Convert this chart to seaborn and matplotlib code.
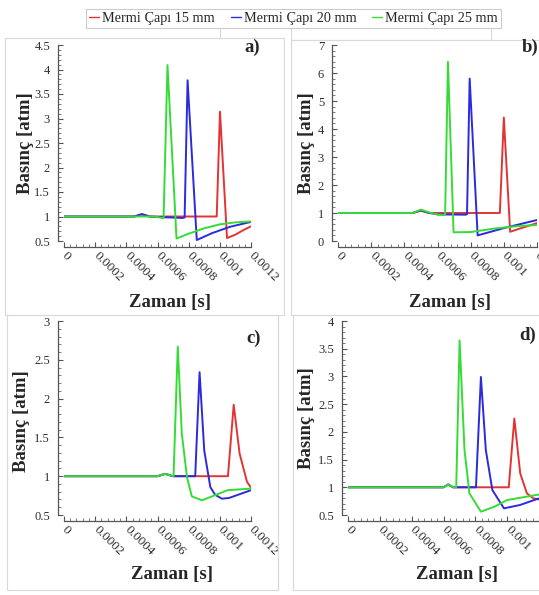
import matplotlib
matplotlib.use("Agg")
import matplotlib.pyplot as plt
from matplotlib.ticker import FixedLocator, FixedFormatter, MultipleLocator
from matplotlib.patches import Rectangle
from matplotlib.lines import Line2D
import pandas as pd
import seaborn as sns

W, H = 539, 595

series_names = ["Mermi Çapı 15 mm", "Mermi Çapı 20 mm", "Mermi Çapı 25 mm"]
series_colors = ["#e23434", "#2a2ade", "#36dc36"]

x_ticks = [0, 0.0002, 0.0004, 0.0006, 0.0008, 0.001, 0.0012]
x_tick_labels = ["0", "0.0002", "0.0004", "0.0006", "0.0008", "0.001", "0.0012"]

# ---- panel a ----
a_t_15 = [0, 0.00045, 0.0005, 0.00055, 0.00098, 0.001001, 0.001046, 0.0011, 0.00115, 0.0012]
a_p_15 = [1.0, 1.0, 1.04, 1.0, 1.0, 3.14, 0.56, 0.63, 0.72, 0.80]
a_t_20 = [0, 0.00045, 0.0005, 0.00055, 0.0006, 0.00076, 0.000774, 0.000793, 0.000852, 0.00095, 0.001065, 0.0012]
a_p_20 = [1.0, 1.0, 1.05, 1.0, 0.99, 0.97, 0.98, 3.78, 0.52, 0.66, 0.79, 0.89]
a_t_25 = [0, 0.00058, 0.00063, 0.000639, 0.000664, 0.000722, 0.0008, 0.0009, 0.001, 0.0011, 0.0012]
a_p_25 = [1.0, 1.0, 0.97, 0.97, 4.09, 0.55, 0.65, 0.76, 0.84, 0.88, 0.90]
a_y_ticks = [0.5, 1, 1.5, 2, 2.5, 3, 3.5, 4, 4.5]
a_y_labels = ["0.5", "1", "1.5", "2", "2.5", "3", "3.5", "4", "4.5"]

# ---- panel b ----
b_t_15 = [0, 0.00045, 0.0005, 0.00055, 0.000976, 0.001, 0.001038, 0.0011, 0.0012]
b_p_15 = [1.0, 1.0, 1.08, 1.0, 1.0, 4.41, 0.33, 0.45, 0.64]
b_t_20 = [0, 0.00045, 0.0005, 0.00055, 0.0006, 0.00077, 0.000778, 0.000794, 0.000842, 0.001, 0.0012]
b_p_20 = [1.0, 1.0, 1.1, 1.0, 0.95, 0.94, 0.96, 5.8, 0.2, 0.46, 0.75]
b_t_25 = [0, 0.00045, 0.0005, 0.00055, 0.0006, 0.00064, 0.000646, 0.000663, 0.000697, 0.00080, 0.00095, 0.0011, 0.0012]
b_p_25 = [1.0, 1.0, 1.12, 1.02, 0.95, 0.92, 0.95, 6.4, 0.31, 0.32, 0.45, 0.54, 0.57]
b_y_ticks = [0, 1, 2, 3, 4, 5, 6, 7]
b_y_labels = ["0", "1", "2", "3", "4", "5", "6", "7"]

# ---- panel c ----
c_t_15 = [0, 0.0006, 0.00065, 0.0007, 0.001052, 0.001089, 0.001127, 0.001174, 0.0012]
c_p_15 = [1.0, 1.0, 1.03, 1.0, 1.0, 1.92, 1.29, 0.93, 0.85]
c_t_20 = [0, 0.0006, 0.00065, 0.0007, 0.000842, 0.00087, 0.0009, 0.000939, 0.00097, 0.001014, 0.00106, 0.0012]
c_p_20 = [1.0, 1.0, 1.03, 1.0, 1.0, 2.34, 1.33, 0.86, 0.76, 0.71, 0.72, 0.82]
c_t_25 = [0, 0.0006, 0.00065, 0.0007, 0.000703, 0.00073, 0.000756, 0.000789, 0.00082, 0.000885, 0.00095, 0.00105, 0.0012]
c_p_25 = [1.0, 1.0, 1.03, 1.0, 1.0, 2.67, 1.55, 0.99, 0.74, 0.69, 0.74, 0.82, 0.84]
c_y_ticks = [0.5, 1, 1.5, 2, 2.5, 3]
c_y_labels = ["0.5", "1", "1.5", "2", "2.5", "3"]

# ---- panel d ----
d_t_15 = [0, 0.0006, 0.00063, 0.00066, 0.00101, 0.001045, 0.001082, 0.001124, 0.001165, 0.0012]
d_p_15 = [1.0, 1.0, 1.05, 1.0, 1.0, 2.24, 1.25, 0.89, 0.80, 0.78]
d_t_20 = [0, 0.0006, 0.00063, 0.00066, 0.000804, 0.000835, 0.000866, 0.000907, 0.00098, 0.00108, 0.0012]
d_p_20 = [1.0, 1.0, 1.05, 1.0, 1.0, 2.99, 1.67, 0.95, 0.62, 0.68, 0.80]
d_t_25 = [0, 0.0006, 0.00063, 0.00066, 0.00068, 0.000701, 0.000732, 0.000763, 0.000835, 0.00092, 0.001, 0.0012]
d_p_25 = [1.0, 1.0, 1.05, 1.0, 1.0, 3.65, 1.67, 0.89, 0.56, 0.65, 0.77, 0.87]
d_y_ticks = [0.5, 1, 1.5, 2, 2.5, 3, 3.5, 4]
d_y_labels = ["0.5", "1", "1.5", "2", "2.5", "3", "3.5", "4"]

panel_letters = ["a)", "b)", "c)", "d)"]

sns.set_style("ticks")
plt.rcParams["font.family"] = ["Liberation Serif", "DejaVu Serif"]


def px_box(l, t, r, b):
    return [l / W, 1 - b / H, (r - l) / W, (b - t) / H]


def frame(fig, l, t, r, b):
    fig.patches.append(Rectangle((l / W, 1 - b / H), (r - l) / W, (b - t) / H,
                                 transform=fig.transFigure, fill=False,
                                 edgecolor="#d9d9d9", lw=0.8, zorder=0))


fig = plt.figure(figsize=(W / 100, H / 100), dpi=100)
fig.patch.set_facecolor("white")

# light panel frames
frame(fig, 5, 38, 284, 315)
frame(fig, 291, 40, 545, 315)
frame(fig, 7, 315, 278, 590)
frame(fig, 293, 315, 545, 590)
fig.add_artist(Line2D([220 / W, 220 / W], [1 - 21 / H, 1 - 38 / H],
                      transform=fig.transFigure, color="#d9d9d9", lw=0.8))
frame(fig, 291, 22, 491, 40)

panels = [
    dict(box=(64, 45, 251, 241), t=[a_t_15, a_t_20, a_t_25], p=[a_p_15, a_p_20, a_p_25],
         ylim=(0.5, 4.5), yt=a_y_ticks, yl=a_y_labels, ymin=0.1,
         ylab=(-0.16, 0.5), xlab=(0.567, -0.27), letter=(252, 47)),
    dict(box=(338, 45, 537, 241), t=[b_t_15, b_t_20, b_t_25], p=[b_p_15, b_p_20, b_p_25],
         ylim=(0, 7), yt=b_y_ticks, yl=b_y_labels, ymin=0.2,
         ylab=(-0.116, 0.5), xlab=(0.563, -0.27), letter=(530, 47)),
    dict(box=(64, 321, 251, 515), t=[c_t_15, c_t_20, c_t_25], p=[c_p_15, c_p_20, c_p_25],
         ylim=(0.5, 3), yt=c_y_ticks, yl=c_y_labels, ymin=0.1,
         ylab=(-0.18, 0.485), xlab=(0.578, -0.265), letter=(254, 338)),
    dict(box=(348, 321, 539, 515), t=[d_t_15, d_t_20, d_t_25], p=[d_p_15, d_p_20, d_p_25],
         ylim=(0.5, 4), yt=d_y_ticks, yl=d_y_labels, ymin=0.1,
         ylab=(-0.173, 0.5), xlab=(0.569, -0.265), letter=(528, 335)),
]

for letter, cfg in zip(panel_letters, panels):
    ax = fig.add_axes(px_box(*cfg["box"]))
    ax.set_facecolor("none")
    frames = []
    for name, tt, pp in zip(series_names, cfg["t"], cfg["p"]):
        frames.append(pd.DataFrame({"t": tt, "p": pp, "seri": name}))
    df = pd.concat(frames, ignore_index=True)
    sns.lineplot(data=df, x="t", y="p", hue="seri", hue_order=series_names,
                 palette=series_colors, estimator=None, sort=False,
                 legend=False, lw=1.4, ax=ax)
    ax.set_xlim(0, 0.0012)
    ax.set_ylim(*cfg["ylim"])
    ax.xaxis.set_major_locator(FixedLocator(x_ticks))
    ax.xaxis.set_major_formatter(FixedFormatter(x_tick_labels))
    ax.xaxis.set_minor_locator(MultipleLocator(0.00004))
    ax.yaxis.set_major_locator(FixedLocator(cfg["yt"]))
    ax.yaxis.set_major_formatter(FixedFormatter(cfg["yl"]))
    ax.yaxis.set_minor_locator(MultipleLocator(cfg["ymin"]))
    sns.despine(ax=ax, offset=4)
    for s in ("left", "bottom"):
        ax.spines[s].set_color("#555555")
        ax.spines[s].set_linewidth(0.9)
    ax.tick_params(which="major", direction="in", length=3.5, width=0.8,
                   color="#555555", labelcolor="#2e2e2e")
    ax.tick_params(which="minor", direction="in", length=2, width=0.6, color="#666666")
    ax.tick_params(axis="y", which="major", pad=6, labelsize=9)
    ax.tick_params(axis="x", which="major", pad=5, labelsize=9.5)
    for lab in ax.get_xticklabels():
        lab.set_rotation(-45)
        lab.set_ha("left")
        lab.set_va("center")
        lab.set_rotation_mode("anchor")
    ax.set_ylabel("Basınç [atm]", fontsize=13.5, fontweight="bold")
    ax.set_xlabel("Zaman [s]", fontsize=13.5, fontweight="bold")
    ax.yaxis.set_label_coords(*cfg["ylab"])
    ax.xaxis.set_label_coords(*cfg["xlab"])
    lx, ly = cfg["letter"]
    fig.text(lx / W, 1 - ly / H, letter, fontsize=13.5, fontweight="bold",
             ha="center", va="center")

handles = [Line2D([], [], color=c, lw=1.0) for c in series_colors]
leg = fig.legend(handles, series_names, loc="upper center",
                 bbox_to_anchor=(293.5 / W, 1 - 2 / H), ncol=3, frameon=True,
                 fontsize=10.3, handlelength=0.7, handletextpad=0.2,
                 columnspacing=1.1, borderpad=0.2, fancybox=False,
                 edgecolor="#cccccc", framealpha=1)
leg.get_frame().set_linewidth(0.8)

fig.savefig("out.png", dpi=100, facecolor="white")
